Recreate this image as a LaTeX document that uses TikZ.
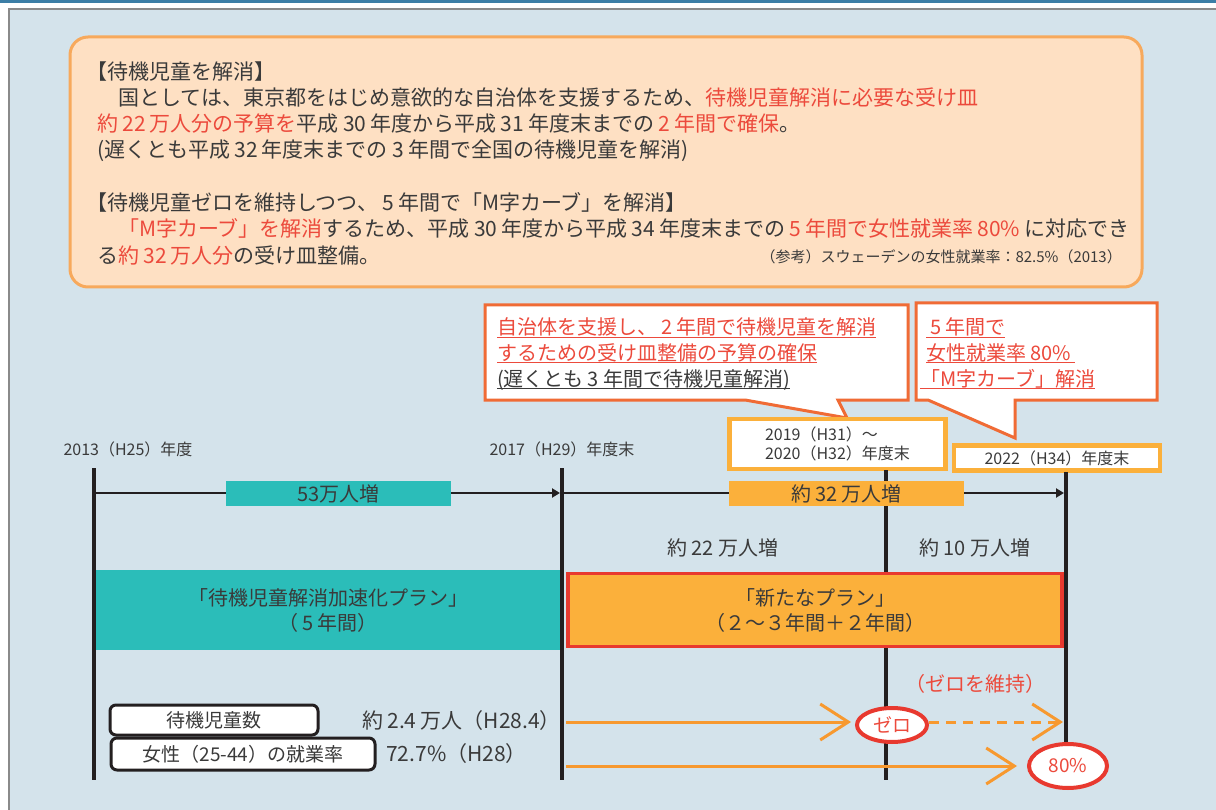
\documentclass[tikz,border=0pt]{standalone}
\usepackage{fontspec}
\setmainfont{Noto Sans CJK JP}
\usetikzlibrary{arrows.meta,shapes.geometric}
\definecolor{ink}{HTML}{3A3A3A}
\definecolor{alert}{HTML}{EC4A3C}
\definecolor{teal}{HTML}{2BBDB9}
\definecolor{amber}{HTML}{FBB03B}
\definecolor{peach}{HTML}{FEE0C3}
\definecolor{peachrim}{HTML}{F7A95C}
\definecolor{panel}{HTML}{D4E3EB}
\definecolor{panelrim}{HTML}{8A8A8A}
\definecolor{topline}{HTML}{3C7EA6}
\definecolor{rim}{HTML}{F06B35}
\definecolor{frame}{HTML}{E8392F}
\definecolor{flowc}{HTML}{F7992F}
\definecolor{stemc}{HTML}{231F20}
\newcommand{\hl}[1]{\textcolor{alert}{#1}}
\newcommand{\dg}[1]{\hspace{.2em}#1\hspace{.2em}}
\newcommand{\uln}[1]{\setbox0\hbox{#1}\rlap{\rule[-3.5pt]{\wd0}{1.3pt}}\box0}
\tikzset{
  txtline/.style={anchor=base west, inner sep=0, text=ink, font=\fontsize{21}{26}\selectfont},
  balloon/.style={draw=rim, line width=3pt, fill=white, line join=miter},
  yr/.style={inner sep=0, text=ink, font=\fontsize{16}{19}\selectfont},
  yearbox/.style={draw=amber, line width=4.5pt, fill=white, inner sep=0, text=ink, font=\fontsize{16}{19}\selectfont},
  gain/.style={draw=stemc, line width=2pt, -{Triangle[length=8pt,width=9pt]}},
  tag/.style={inner sep=0, minimum height=25pt, text=ink, font=\fontsize{20}{24}\selectfont},
  stem/.style={draw=stemc, line width=4pt},
  plan/.style={inner sep=0, align=center, text=ink, font=\fontsize{20}{25}\selectfont},
  keybox/.style={draw=stemc, line width=3pt, fill=white, rounded corners=6pt, inner sep=0, text=ink, font=\fontsize{19}{24}\selectfont},
  val/.style={anchor=base west, inner sep=0, text=ink, font=\fontsize{21}{24}\selectfont},
  oval/.style={ellipse, draw=frame, line width=4pt, fill=white, inner sep=0, text=alert, font=\fontsize{19}{24}\selectfont},
  flow/.style={draw=flowc, line width=3pt, -{Straight Barb[length=28pt,width=36pt,line width=3pt]}},
}
\begin{document}
\begin{tikzpicture}[x=1pt, y=-1pt]
\useasboundingbox (0,0) rectangle (1216,810);
% background
\fill[white] (0,0) rectangle (1216,810);
\fill[topline] (0,0) rectangle (1216,3);
\fill[panel] (9,9) rectangle (1216,810);
\draw[panelrim, line width=1.5pt] (9,810) -- (9,9) -- (1216,9);
% summary box
\node[draw=peachrim, fill=peach, line width=3pt, rounded corners=18pt, minimum width=1072pt, minimum height=250pt] (note) at (606,162) {};
\node[txtline] (n_1) at (86,80) {【待機児童を解消】};
\node[txtline] (n_2) at (97,106) {　国としては、東京都をはじめ意欲的な自治体を支援するため、\hl{待機児童解消に必要な受け皿}};
\node[txtline] (n_3) at (97,132) {\hl{約\dg{22}万人分の予算を}平成\dg{30}年度から平成\dg{31}年度末までの\hl{\dg{2}年間で確保}。};
\node[txtline] (n_4) at (97,158) {(遅くとも平成\dg{32}年度末までの\dg{3}年間で全国の待機児童を解消)};
\node[txtline] (n_5) at (86,211) {【待機児童ゼロを維持しつつ、\dg{5}年間で「M字カーブ」を解消】};
\node[txtline] (n_6) at (97,237) {　\hl{「M字カーブ」を解消}するため、平成\dg{30}年度から平成\dg{34}年度末までの\hl{\dg{5}年間で女性就業率\dg{80\%}}に対応でき};
\node[txtline] (n_7) at (97,264) {る\hl{約\dg{32}万人分}の受け皿整備。};
\node[txtline, anchor=base east, font=\fontsize{15}{19}\selectfont] (n_ref) at (1122,263) {（参考）スウェーデンの女性就業率：82.5\%（2013）};
% callouts
\draw[balloon] (485,305) -- (908,305) -- (908,400) -- (838,400) -- (847,418) -- (745,400) -- (485,400) -- cycle;
\node[txtline, font=\fontsize{20}{25}\selectfont, text=alert] (c_1) at (497,335) {\uln{自治体を支援し、\dg{2}年間で待機児童を解消}};
\node[txtline, font=\fontsize{20}{25}\selectfont, text=alert] (c_2) at (497,360) {\uln{するための受け皿整備の予算の確保}};
\node[txtline, font=\fontsize{20}{25}\selectfont] (c_3) at (497,386) {\uln{(遅くとも\dg{3}年間で待機児童解消)}};
\draw[balloon] (916,303) -- (1157,303) -- (1157,400) -- (1015,400) -- (1015,438) -- (928,400) -- (916,400) -- cycle;
\node[txtline, font=\fontsize{20}{25}\selectfont, text=alert] (c_4) at (926,335) {\uln{\dg{5}年間で}};
\node[txtline, font=\fontsize{20}{25}\selectfont, text=alert] (c_5) at (926,360) {\uln{女性就業率\dg{80\%}}};
\node[txtline, font=\fontsize{20}{25}\selectfont, text=alert] (c_6) at (920,386) {\uln{「M字カーブ」解消}};
% year labels
\node[yr] (y_2013) at (128,449) {2013（H25）年度};
\node[yr] (y_2017) at (562,449) {2017（H29）年度末};
\node[yearbox, minimum width=216pt, minimum height=50pt, align=left] (y_2019) at (837.5,444) {2019（H31）～\\2020（H32）年度末};
\node[yearbox, minimum width=206pt, minimum height=25pt] (y_2022) at (1057,458) {2022（H34）年度末};
% timeline stems
\coordinate (t_2013) at (94,468);
\coordinate (b_2013) at (94,780);
\coordinate (t_2017) at (562,468);
\coordinate (b_2017) at (562,780);
\coordinate (t_2020) at (886,470);
\coordinate (b_2020) at (886,780);
\coordinate (t_2022) at (1066,472);
\coordinate (b_2022) at (1066,788);
\draw[stem] (t_2013) -- (b_2013);
\draw[stem] (t_2017) -- (b_2017);
\draw[stem] (t_2020) -- (b_2020);
\draw[stem] (t_2022) -- (b_2022);
% increase arrows
\coordinate (m_2013) at (96,493);
\coordinate (m_2017) at (560,493);
\coordinate (m_2017b) at (564,493);
\coordinate (m_2022) at (1064,493);
\draw[gain] (m_2013) -- (m_2017);
\draw[gain] (m_2017b) -- (m_2022);
\node[tag, fill=teal, minimum width=225pt] (g_53) at (338.5,493.5) {53万人増};
\node[tag, fill=amber, minimum width=235pt] (g_32) at (846.5,493.5) {約\dg{32}万人増};
\node[tag] (g_22) at (723,548) {約\dg{22}万人増};
\node[tag] (g_10) at (975,548) {約\dg{10}万人増};
% plans
\node[plan, fill=teal, minimum width=464pt, minimum height=80pt] (p_old) at (328,610) {「待機児童解消加速化プラン」\\（\dg{5}年間）};
\node[plan, fill=amber, draw=frame, line width=3.5pt, minimum width=494pt, minimum height=73pt] (p_new) at (815,610) {「新たなプラン」\\（２～３年間＋２年間）};
% indicators
\node[tag, text=alert] (z_keep) at (975,684) {（ゼロを維持）};
\node[keybox, minimum width=208pt, minimum height=30pt] (k_wait) at (214,720) {待機児童数};
\node[keybox, minimum width=264pt, minimum height=32pt] (k_rate) at (243,754) {女性（25-44）の就業率};
\node[val] (v_wait) at (362,728) {約\dg{2.4}万人（H28.4）};
\node[val] (v_rate) at (386,761) {72.7\%（H28）};
\node[oval, minimum width=70pt, minimum height=34pt] (z_zero) at (892,725) {ゼロ};
\node[oval, minimum width=78pt, minimum height=44pt] (z_80) at (1068,766) {80\%};
\coordinate (s_wait) at (566,722);
\coordinate (e_wait) at (1063,722);
\coordinate (s_rate) at (566,766);
\draw[flow, shorten >=4pt] (s_wait) -- (s_wait -| z_zero.west);
\draw[flow, dash pattern=on 10pt off 7pt] (s_wait -| z_zero.east) -- (e_wait);
\draw[flow, shorten >=10pt] (s_rate) -- (s_rate -| z_80.west);
\end{tikzpicture}
\end{document}
